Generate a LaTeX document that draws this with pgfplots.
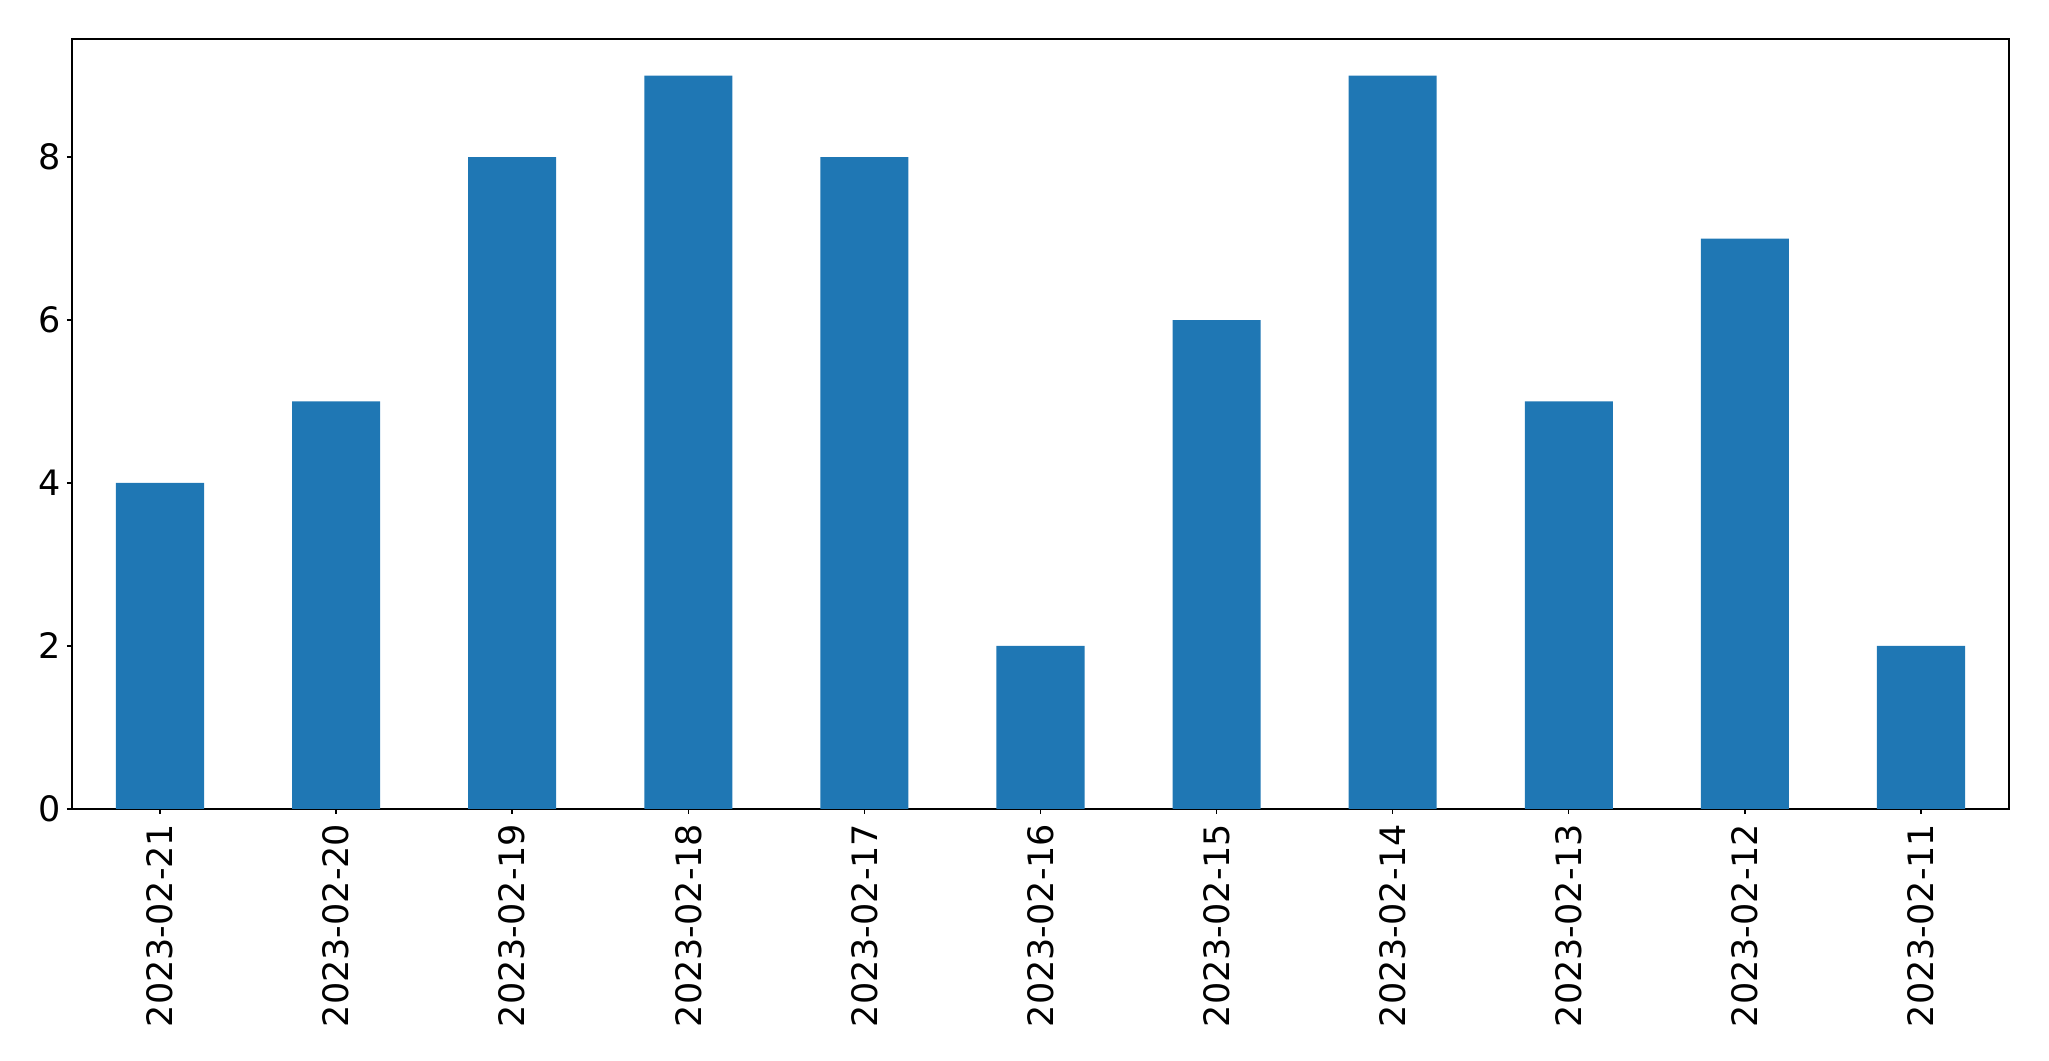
\documentclass[border=0pt]{standalone}
\usepackage{fontspec}
\setmainfont{DejaVu Sans}
\usepackage{pgfplots}
\pgfplotsset{compat=1.18}
\definecolor{barblue}{RGB}{31,119,180}
\begin{document}
\begin{tikzpicture}
% page size: 2049x1061 px at 0.36pt per px
\useasboundingbox (-25.9pt,-90.7pt) rectangle (711.7pt,291.2pt);
\begin{axis}[
    at={(0pt,0pt)}, anchor=south west,
    scale only axis,
    width=697.3pt, height=277.2pt,
    xmin=-0.5, xmax=10.5,
    ymin=0, ymax=9.45,
    ybar, bar width=0.5,
    xtick=data,
    xticklabels={2023-02-21,2023-02-20,2023-02-19,2023-02-18,2023-02-17,2023-02-16,2023-02-15,2023-02-14,2023-02-13,2023-02-12,2023-02-11},
    ytick={0,2,4,6,8},
    xtick pos=left, ytick pos=left,
    tick align=outside,
    major tick length=1.8pt,
    tick style={black, line width=0.5pt},
    axis line style={line width=0.5pt},
    tick label style={font=\fontsize{12.6}{15}\selectfont},
    x tick label style={rotate=90, anchor=east},
    y tick label style={inner sep=2pt},
    /pgf/number format/assume math mode=true,
]
\addplot[fill=barblue, draw=none] coordinates {
    (0,4) (1,5) (2,8) (3,9) (4,8) (5,2) (6,6) (7,9) (8,5) (9,7) (10,2)
};
\end{axis}
\end{tikzpicture}
\end{document}
